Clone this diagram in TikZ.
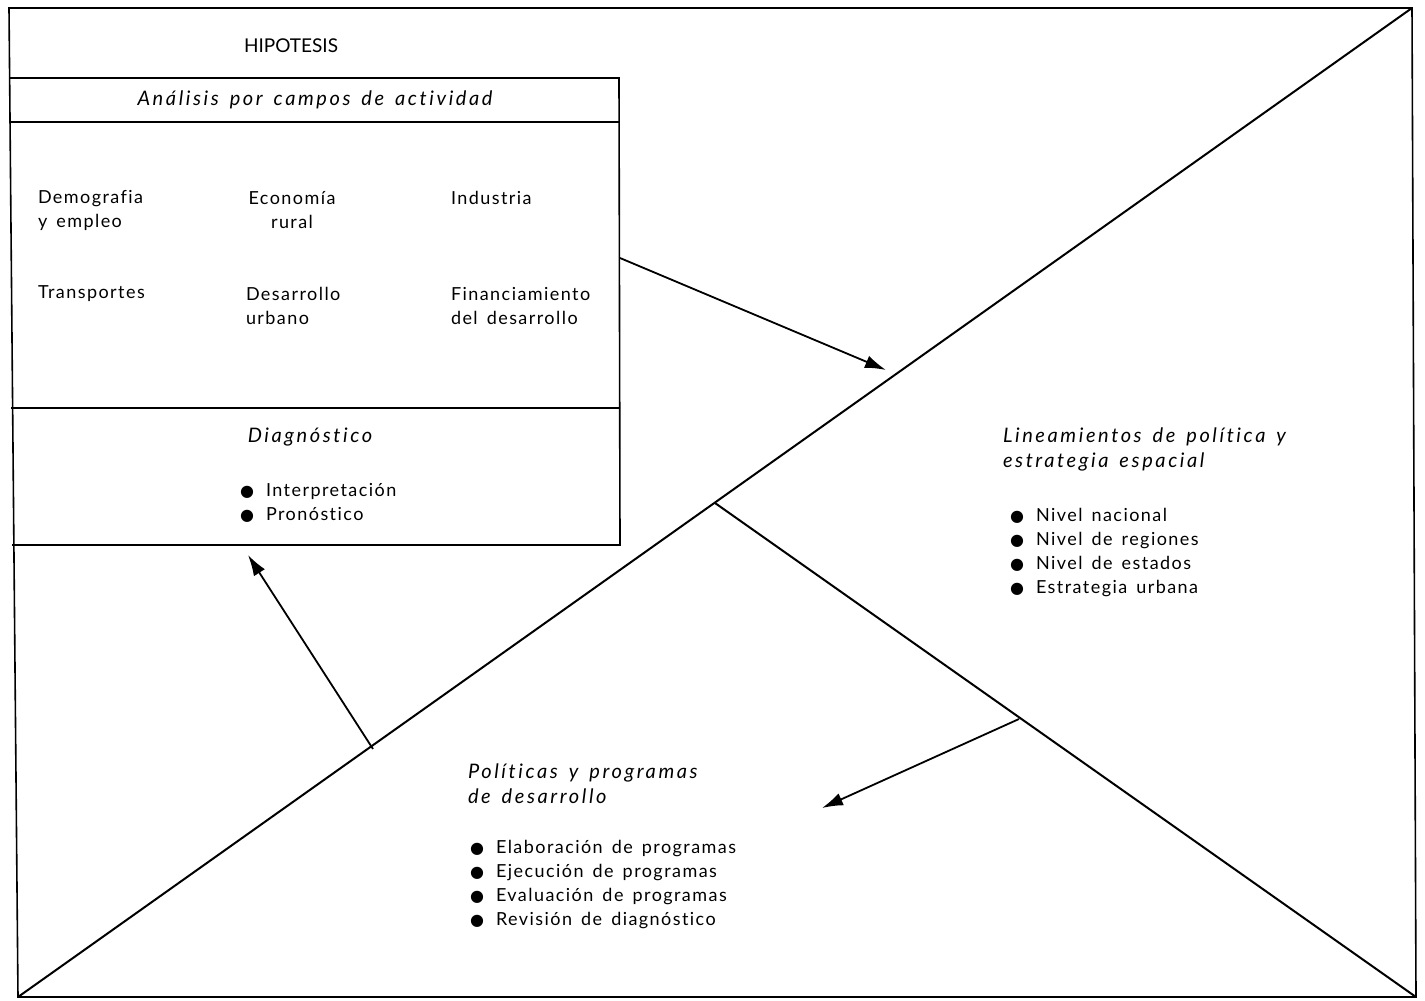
\documentclass[tikz,border=0pt]{standalone}
\usepackage{fontspec}
\setmainfont{Lato}[LetterSpace=8,WordSpace=1.5,Ligatures=NoCommon]
\newfontfamily\itfont{Lato Italic}[LetterSpace=13,WordSpace=1.5,Ligatures=NoCommon]
\newfontfamily\hipfont{Lato}[LetterSpace=0]
\newfontfamily\symfont{DejaVu Sans}
\usetikzlibrary{arrows.meta}
\newcommand{\bul}{{\symfont\fontsize{16}{16}\selectfont ●}\ \,}
\begin{document}
\begin{tikzpicture}[x=1pt,y=-1pt,line width=2pt,
  txt/.style={font=\fontsize{18}{24}\selectfont,inner sep=0pt,align=left,anchor=west},
  ctxt/.style={font=\fontsize{18}{24}\selectfont,inner sep=0pt,align=center},
  ital/.style={font=\fontsize{20}{25}\selectfont\itfont,inner sep=0pt,align=left},
  arr/.style={-{Latex[length=21pt,width=13pt]},line width=1.8pt}]
\useasboundingbox (0,0) rectangle (1425,1001);
% frame
\coordinate (tl) at (9,8);
\coordinate (tr) at (1412,8);
\coordinate (br) at (1416,997);
\coordinate (bl) at (18,997);
\draw[line width=1.6pt] (tl) -- (tr) -- (br) -- (bl) -- cycle;
% inner box
\coordinate (b1l) at (10,78);
\coordinate (b1r) at (619,78);
\coordinate (b2l) at (10,122);
\coordinate (b2r) at (619,122);
\coordinate (b3l) at (11,408);
\coordinate (b3r) at (620,408);
\coordinate (b4l) at (12,545);
\coordinate (b4r) at (620,545);
\draw[line width=1.6pt] (b1l) -- (b1r) -- (b4r) -- (b4l);
\draw[line width=1.6pt] (b2l) -- (b2r);
\draw[line width=1.6pt] (b3l) -- (b3r);
% diagonals
\draw (bl) -- (tr);
\coordinate (j1) at (715,503);
\draw (j1) -- (br);
% arrows
\coordinate (a1s) at (620,258);
\coordinate (a1e) at (886,370);
\draw[arr] (a1s) -- (a1e);
\coordinate (a2s) at (373,749);
\coordinate (a2e) at (248,555);
\draw[arr] (a2s) -- (a2e);
\coordinate (a3s) at (1019,719);
\coordinate (a3e) at (822,808);
\draw[arr] (a3s) -- (a3e);
% texts
\node[font=\fontsize{19}{22}\selectfont\hipfont,inner sep=0pt] (hip) at (291,46) {HIPOTESIS};
\node[ital] (ana) at (315,100) {Análisis por campos de actividad};
\node[txt] (dem) at (37,210) {Demografia\\y empleo};
\node[ctxt] (eco) at (292,210) {Economía\\rural};
\node[txt] (ind) at (450,198) {Industria};
\node[txt] (tra) at (37,294) {Transportes};
\node[txt] (des) at (245,306) {Desarrollo\\urbano};
\node[txt] (fin) at (450,306) {Financiamiento\\del desarrollo};
\node[ital] (dia) at (310,437) {Diagnóstico};
\node[txt] (dil) at (239,503) {\bul Interpretación\\\bul Pronóstico};
\node[ital,anchor=west] (lin) at (1002,449) {Lineamientos de política y\\estrategia espacial};
\node[txt] (linl) at (1009,553) {\bul Nivel nacional\\\bul Nivel de regiones\\\bul Nivel de estados\\\bul Estrategia urbana};
\node[ital,anchor=west] (pol) at (467,784) {Políticas y programas\\de desarrollo};
\node[txt] (poll) at (469,885) {\bul Elaboración de programas\\\bul Ejecución de programas\\\bul Evaluación de programas\\\bul Revisión de diagnóstico};
\end{tikzpicture}
\end{document}
